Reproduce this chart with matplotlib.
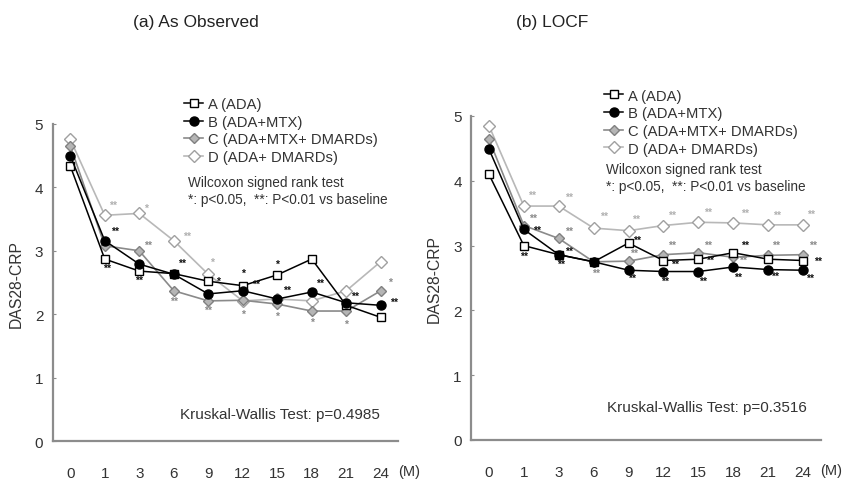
import matplotlib
matplotlib.use("Agg")
import matplotlib.pyplot as plt
from matplotlib.lines import Line2D

plt.rcParams['font.family'] = ['Liberation Sans', 'DejaVu Sans']

months = ["0", "1", "3", "6", "9", "12", "15", "18", "21", "24"]
series_labels = ["A (ADA)", "B (ADA+MTX)", "C (ADA+MTX+ DMARDs)", "D (ADA+ DMARDs)"]

# (a) As Observed
obs_A = [4.34, 2.87, 2.68, 2.64, 2.52, 2.45, 2.62, 2.87, 2.14, 1.95]
obs_B = [4.50, 3.16, 2.79, 2.63, 2.32, 2.37, 2.24, 2.35, 2.18, 2.14]
obs_C = [4.66, 3.08, 3.00, 2.37, 2.21, 2.22, 2.16, 2.05, 2.05, 2.37]
obs_D = [4.76, 3.56, 3.59, 3.16, 2.63, 2.21, 2.24, 2.21, 2.37, 2.83]

# (b) LOCF
locf_A = [4.10, 3.00, 2.86, 2.75, 3.04, 2.77, 2.79, 2.89, 2.79, 2.77]
locf_B = [4.49, 3.25, 2.86, 2.75, 2.62, 2.60, 2.60, 2.67, 2.63, 2.62]
locf_C = [4.64, 3.31, 3.11, 2.75, 2.76, 2.86, 2.89, 2.82, 2.85, 2.86]
locf_D = [4.85, 3.61, 3.61, 3.27, 3.23, 3.31, 3.36, 3.35, 3.32, 3.32]

# significance marks: (series, month index, text, dx px, dy px)
obs_marks = [
    ("D", 1, "**", 8, 10), ("D", 2, "*", 7, 6), ("D", 3, "**", 13, 5), ("D", 4, "*", 4, 12),
    ("B", 1, "**", 10, 10), ("B", 3, "**", 8, 11), ("B", 5, "**", 13, 7), ("B", 6, "**", 10, 9),
    ("B", 7, "**", 8, 9), ("B", 8, "**", 9, 7), ("B", 9, "**", 13, 3),
    ("A", 4, "*", 10, 0), ("A", 5, "*", 0, 13), ("A", 6, "*", 0, 11),
    ("A", 1, "**", 2, -9), ("A", 2, "**", 0, -9),
    ("C", 2, "**", 9, 6), ("C", 9, "*", 9, 9), ("C", 3, "**", 0, -10), ("C", 4, "**", 0, -9),
    ("C", 5, "*", 0, -14), ("C", 6, "*", 0, -12), ("C", 7, "*", 0, -11), ("C", 8, "*", 0, -13),
]
locf_marks = [
    ("D", 1, "**", 8, 11), ("D", 2, "**", 10, 9), ("D", 3, "**", 10, 12), ("D", 4, "**", 7, 12),
    ("D", 5, "**", 9, 11), ("D", 6, "**", 10, 10), ("D", 7, "**", 12, 10), ("D", 8, "**", 9, 10),
    ("D", 9, "**", 8, 11),
    ("C", 1, "**", 9, 8), ("C", 2, "**", 10, 8), ("C", 3, "**", 2, -11), ("C", 4, "**", 5, 8),
    ("C", 5, "**", 9, 10), ("C", 6, "**", 10, 8), ("C", 7, "**", 10, -3), ("C", 8, "**", 8, 10),
    ("C", 9, "**", 10, 10),
    ("A", 4, "**", 8, 3), ("A", 5, "**", 12, -3), ("A", 7, "**", 12, 8), ("A", 9, "**", 15, 0),
    ("A", 1, "**", 0, -10), ("A", 6, "**", 12, -1),
    ("B", 1, "**", 13, 0), ("B", 2, "**", 10, 4), ("B", 2, "**", 2, -9), ("B", 4, "**", 3, -8),
    ("B", 5, "**", 2, -9), ("B", 6, "**", 5, -9), ("B", 7, "**", 5, -10), ("B", 8, "**", 7, -6),
    ("B", 9, "**", 7, -8),
]

styles = {
    "A": dict(color="black", marker="s", mfc="white", mec="black", ms=6, lw=1.1, zorder=4),
    "B": dict(color="black", marker="o", mfc="black", mec="black", ms=6.5, lw=1.1, zorder=5),
    "C": dict(color="#8a8a8a", marker="D", mfc="#b5b5b5", mec="#808080", ms=5.5, lw=1.2, zorder=3),
    "D": dict(color="#b8b8b8", marker="D", mfc="white", mec="#a0a0a0", ms=6, lw=1.2, zorder=2),
}
mark_colors = {"A": "#111111", "B": "#111111", "C": "#8a8a8a", "D": "#b0b0b0"}
text_color = "#333333"

W, H = 849, 481
fig = plt.figure(figsize=(W / 100, H / 100), dpi=100)


def px(x0, y_top, x1, y_bottom):
    return [x0 / W, 1 - y_bottom / H, (x1 - x0) / W, (y_bottom - y_top) / H]


def panel(rect, data, marks, title, title_xy, legend_xy, wil_xy, kw_xy, kw_text):
    ax = fig.add_axes(rect)
    x = list(range(len(months)))
    vals = dict(zip("ABCD", data))
    for key in "DCAB":
        ax.plot(x, vals[key], **styles[key])
    for key, i, t, dx, dy in marks:
        ax.annotate(t, (x[i], vals[key][i]), xytext=(dx, dy), textcoords="offset pixels",
                    ha="center", va="center", fontsize=7.5, fontweight="bold",
                    color=mark_colors[key], zorder=6)
    ax.set_xlim(-0.5, 9.5)
    ax.set_ylim(0, 5)
    ax.set_xticks(x)
    ax.set_xticklabels(months)
    ax.set_yticks(range(6))
    for s in ["top", "right"]:
        ax.spines[s].set_visible(False)
    for s in ["left", "bottom"]:
        ax.spines[s].set_color("#8c8c8c")
        ax.spines[s].set_linewidth(1.6)
    ax.tick_params(axis="x", length=0, pad=18, labelsize=11, labelcolor=text_color)
    ax.tick_params(axis="y", direction="in", length=2, color="#8c8c8c", pad=7,
                   labelsize=11, labelcolor=text_color)
    ax.set_ylabel("DAS28-CRP", fontsize=11.3, color=text_color, labelpad=8)
    ax.annotate("(M)", (9, 0), xytext=(28, -30), textcoords="offset pixels",
                ha="center", va="center", fontsize=10.5, color=text_color, annotation_clip=False)
    fig.text(title_xy[0] / W, 1 - title_xy[1] / H, title, fontsize=12.5, color="#222222",
             ha="center", va="center")
    handles = [Line2D([], [], **{k: v for k, v in styles[k2].items() if k != "zorder"})
               for k2 in "ABCD"]
    ax.legend(handles, series_labels, loc="upper left",
              bbox_to_anchor=(legend_xy[0] / W, 1 - legend_xy[1] / H),
              bbox_transform=fig.transFigure, frameon=False, fontsize=10.6,
              handlelength=1.3, handletextpad=0.3, borderpad=0, borderaxespad=0,
              labelspacing=0.25, labelcolor=text_color)
    fig.text(wil_xy[0] / W, 1 - wil_xy[1] / H,
             "Wilcoxon signed rank test\n*: p<0.05,  **: P<0.01 vs baseline",
             fontsize=9.8, color=text_color, ha="left", va="center", linespacing=1.2)
    fig.text(kw_xy[0] / W, 1 - kw_xy[1] / H, kw_text, fontsize=11, color=text_color,
             ha="left", va="center")
    return ax


panel(px(53, 125, 398, 442), [obs_A, obs_B, obs_C, obs_D], obs_marks,
      "(a) As Observed", (196, 23), (184, 98), (188, 191.5), (180, 415),
      "Kruskal-Wallis Test: p=0.4985")
panel(px(471.5, 117, 820.5, 441), [locf_A, locf_B, locf_C, locf_D], locf_marks,
      "(b) LOCF", (552, 23), (604, 89.5), (606, 178.5), (607, 408),
      "Kruskal-Wallis Test: p=0.3516")

fig.savefig("out.png", dpi=100)
